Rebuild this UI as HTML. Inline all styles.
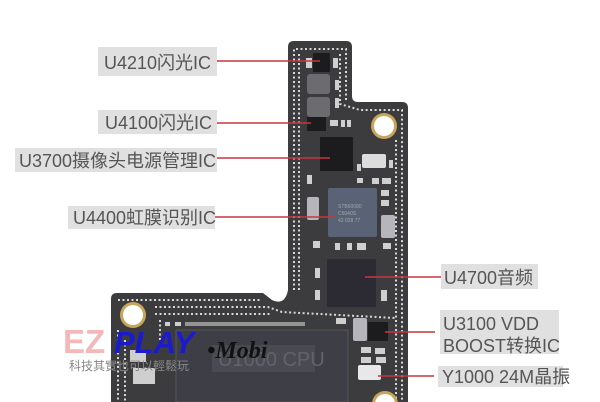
<!DOCTYPE html>
<html><head><meta charset="utf-8"><style>
html,body{margin:0;padding:0;background:#fff;width:600px;height:402px;overflow:hidden}
svg{display:block}
.l{font-family:"Liberation Sans","Noto Sans CJK SC",sans-serif;font-size:18px;fill:#555}
</style></head><body>
<svg width="600" height="402" viewBox="0 0 600 402" xmlns="http://www.w3.org/2000/svg">
<rect width="600" height="402" fill="#fff"/>
<path d="M294,41 L346,41 Q352,41 352,47 L352,96 Q352,102 358,102 L402,102 Q408,102 408,108 L408,402 L111,402 L111,299 Q111,293 117,293 L263,293 L272,300 Q285,306 288,290 L288,47 Q288,41 294,41 Z" fill="#3c3c3e"/>
<g fill="none" stroke="#d8d8d8" stroke-width="2" stroke-dasharray="2 2.5">
<path d="M294,290 L294,49 L346,49 L346,100"/>
<path d="M299,290 L299,54"/>
<path d="M340,54 L340,104 L360,110 L402,110 L402,402"/>
<path d="M396,140 L396,402"/>
<path d="M118,300 L262,300"/>
<path d="M155,307 L268,307 L282,312 L395,318"/>
<path d="M155,314 L270,314"/>
<path d="M118,330 L118,402"/>
<path d="M125,340 L125,402"/>
<path d="M160,320 L160,340"/>
</g>
<circle cx="384" cy="126" r="13" fill="#c8a55a"/><circle cx="384" cy="126" r="10" fill="#fff"/>
<circle cx="133" cy="315" r="13" fill="#c8a55a"/><circle cx="133" cy="315" r="10" fill="#fff"/>
<circle cx="385" cy="404" r="13" fill="#c8a55a"/><circle cx="385" cy="404" r="10" fill="#fff"/>
<rect x="313" y="53" width="17" height="19" fill="#1c1c1e"/>
<rect x="307" y="74" width="23" height="20" rx="3" fill="#6c6c70"/>
<rect x="307" y="97" width="23" height="20" rx="3" fill="#6c6c70"/>
<rect x="307" y="117" width="19" height="14" fill="#1c1c1e"/>
<rect x="320" y="137" width="33" height="34" fill="#1c1c1e"/>
<rect x="362" y="154" width="24" height="14" rx="2" fill="#dcdcdc"/>
<rect x="328" y="188" width="49" height="49" rx="2" fill="#5a6275"/>
<text x="338" y="208" font-family="Liberation Sans" font-size="5" fill="#9aa">STB60080</text>
<text x="338" y="215" font-family="Liberation Sans" font-size="5" fill="#9aa">C5040S</text>
<text x="338" y="222" font-family="Liberation Sans" font-size="5" fill="#9aa">42 028 77</text>
<rect x="307" y="197" width="12" height="23" rx="2" fill="#b5b5bb"/>
<rect x="381" y="215" width="14" height="23" rx="2" fill="#b5b5bb"/>
<rect x="327" y="259" width="49" height="48" fill="#2c2a33"/>
<rect x="353" y="318" width="14" height="23" rx="2" fill="#b5b5bb"/>
<rect x="368" y="322" width="20" height="19" fill="#1c1c1e"/>
<rect x="358" y="365" width="23" height="15" rx="2" fill="#e8e8e8"/>
<g fill="#cfcfcf">
<rect x="306" y="58" width="6" height="10"/><rect x="333" y="58" width="5" height="10"/>
<rect x="335" y="80" width="4" height="10"/><rect x="335" y="98" width="4" height="10"/>
<rect x="330" y="120" width="8" height="6"/><rect x="341" y="120" width="4" height="7"/><rect x="347" y="120" width="4" height="7"/>
<rect x="357" y="164" width="4" height="7"/><rect x="389" y="160" width="4" height="8"/>
<rect x="307" y="175" width="5" height="9"/><rect x="357" y="178" width="6" height="5"/><rect x="372" y="178" width="7" height="6"/><rect x="382" y="178" width="9" height="6"/>
<rect x="381" y="190" width="8" height="6"/><rect x="381" y="200" width="8" height="6"/>
<rect x="313" y="241" width="7" height="7"/><rect x="335" y="243" width="5" height="7"/><rect x="347" y="243" width="5" height="7"/><rect x="357" y="243" width="9" height="7"/><rect x="383" y="243" width="8" height="6"/>
<rect x="315" y="268" width="5" height="10"/><rect x="315" y="290" width="5" height="10"/><rect x="381" y="290" width="6" height="11"/>
<rect x="361" y="347" width="10" height="6"/><rect x="375" y="348" width="10" height="6"/><rect x="361" y="357" width="10" height="6"/><rect x="376" y="357" width="10" height="6"/>
<rect x="336" y="318" width="10" height="6"/>
<rect x="130" y="350" width="16" height="12"/><rect x="133" y="368" width="22" height="16"/>
<rect x="165" y="322" width="5" height="4"/><rect x="175" y="322" width="6" height="4"/><rect x="185" y="322" width="120" height="4" opacity=".6"/>
</g>
<rect x="176" y="330" width="172" height="72" fill="#3e3e46" stroke="#55555c" stroke-width="1"/>
<rect x="212" y="345" width="103" height="27" fill="#4a4a52"/>
<text x="218" y="366" font-family="Liberation Sans" font-size="20" fill="#62626a">U1000 CPU</text>
<text x="63" y="353" font-family="Liberation Sans" font-weight="bold" font-size="33" fill="#f4b8b8">EZ</text>
<text x="114" y="353" font-family="Liberation Sans" font-weight="bold" font-style="italic" font-size="31" fill="#1a1ad0">PLAY</text>
<text x="207" y="358" font-family="Liberation Serif" font-weight="bold" font-style="italic" font-size="24" fill="#111">•Mobi</text>
<text x="69" y="370" font-family="Liberation Sans,Noto Sans CJK TC,sans-serif" font-size="12" fill="#888">科技其實也可以輕鬆玩</text>
<g fill="#e0e0e0">
<rect x="98" y="47" width="119" height="29"/>
<rect x="98" y="110" width="119" height="24"/>
<rect x="15" y="148" width="202" height="24"/>
<rect x="68" y="206" width="147" height="23"/>
<rect x="441" y="264" width="97" height="25"/>
<rect x="440" y="310" width="119" height="44"/>
<rect x="438" y="366" width="125" height="21"/>
</g>
<g class="l">
<text x="104" y="69">U4210闪光IC</text>
<text x="105" y="129">U4100闪光IC</text>
<text x="19" y="167">U3700摄像头电源管理IC</text>
<text x="73" y="224">U4400虹膜识别IC</text>
<text x="444" y="284">U4700音频</text>
<text x="443" y="330">U3100 VDD</text>
<text x="443" y="352">BOOST转换IC</text>
<text x="442" y="383">Y1000 24M晶振</text>
</g>
<g stroke="#c9353f" stroke-width="1.5">
<line x1="217" y1="61" x2="320" y2="61"/>
<line x1="217" y1="123" x2="311" y2="123"/>
<line x1="217" y1="158" x2="330" y2="158"/>
<line x1="215" y1="217" x2="335" y2="217"/>
<line x1="365" y1="277" x2="441" y2="277"/>
<line x1="385" y1="332" x2="435" y2="332"/>
<line x1="378" y1="376" x2="434" y2="376"/>
</g>
</svg>
</body></html>
